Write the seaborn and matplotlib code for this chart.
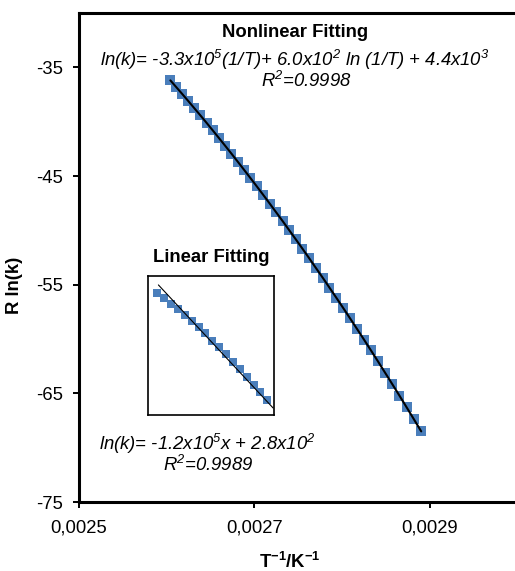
import numpy as np
import pandas as pd
import seaborn as sns
import matplotlib.pyplot as plt
from matplotlib.ticker import FuncFormatter

# Datos: R ln(k) frente a 1/T
inv_T = [0.0026042, 0.0026110, 0.0026178, 0.0026247, 0.0026316, 0.0026385, 0.0026455,
         0.0026525, 0.0026596, 0.0026667, 0.0026738, 0.0026810, 0.0026882, 0.0026954,
         0.0027027, 0.0027100, 0.0027174, 0.0027248, 0.0027322, 0.0027397, 0.0027473,
         0.0027548, 0.0027624, 0.0027701, 0.0027778, 0.0027855, 0.0027933, 0.0028011,
         0.0028090, 0.0028169, 0.0028249, 0.0028329, 0.0028409, 0.0028490, 0.0028571,
         0.0028653, 0.0028736, 0.0028818, 0.0028902]
R_lnk = [-36.20, -36.83, -37.46, -38.11, -38.77, -39.43, -40.11, -40.80, -41.51, -42.22,
         -42.94, -43.68, -44.43, -45.18, -45.95, -46.73, -47.53, -48.34, -49.15, -49.99,
         -50.84, -51.69, -52.56, -53.46, -54.35, -55.26, -56.19, -57.13, -58.09, -59.06,
         -60.05, -61.05, -62.06, -63.10, -64.14, -65.20, -66.29, -67.38, -68.50]

# Datos del recuadro (ajuste lineal)
ins_x = [0.00260000, 0.00261875, 0.00263750, 0.00265625, 0.00267500, 0.00269375,
         0.00271250, 0.00273125, 0.00275000, 0.00276875, 0.00278750, 0.00280625,
         0.00282500, 0.00284375, 0.00286250, 0.00288125, 0.00290000]
ins_y = [-36.20, -37.80, -39.61, -41.12, -42.93, -44.74, -46.55, -48.36, -50.78,
         -52.59, -54.70, -57.03, -59.23, -61.65, -63.88, -66.08, -68.59]
lin_slope = -1.187e5
lin_intercept = 275.2
lin_x_ends = [0.002603, 0.002916]

x_ticks = [0.0025, 0.0027, 0.0029]
y_ticks = [-75, -65, -55, -45, -35]

azul = '#4A7EBB'
fs = 13.3

sns.set_style('ticks')
plt.rcParams['font.family'] = ['Liberation Sans', 'DejaVu Sans']
plt.rcParams['mathtext.default'] = 'regular'
plt.rcParams['text.color'] = 'black'
plt.rcParams['axes.labelcolor'] = 'black'

fig = plt.figure(figsize=(5.15, 5.71), dpi=100)
ax = fig.add_axes([0.1534, 0.1208, 0.8515, 0.8564])

df = pd.DataFrame({'x': inv_T, 'y': R_lnk})
sns.scatterplot(data=df, x='x', y='y', marker='s', s=58, color=azul,
                edgecolor=azul, linewidth=0, ax=ax, zorder=2)
sns.lineplot(data=df, x='x', y='y', color='black', linewidth=1.5, ax=ax, zorder=3)

ax.set_xlim(0.0025, 0.0030)
ax.set_ylim(-75, -30)
ax.set_xticks(x_ticks)
ax.set_yticks(y_ticks)
ax.xaxis.set_major_formatter(FuncFormatter(lambda v, p: f'{v:.4f}'.replace('.', ',')))
ax.yaxis.set_major_formatter(FuncFormatter(lambda v, p: f'{v:.0f}'))

for lado in ['left', 'bottom', 'top', 'right']:
    ax.spines[lado].set_color('black')
    ax.spines[lado].set_linewidth(2.2)

ax.tick_params(axis='x', direction='out', length=4.3, width=1.4, color='black',
               labelsize=fs, pad=8.6, labelcolor='black')
ax.tick_params(axis='y', direction='out', length=4.3, width=1.4, color='black',
               labelsize=fs, pad=7.0, labelcolor='black')

ax.set_xlabel(r'T$^{-1}$/K$^{-1}$', fontsize=fs, fontweight='bold')
ax.set_ylabel('R ln(k)', fontsize=fs, fontweight='bold')
ax.xaxis.set_label_coords(0.481, -0.101)
ax.yaxis.set_label_coords(-0.128, 0.444)

# Textos del ajuste no lineal
ax.text(0.4926, 0.961, 'Nonlinear Fitting', transform=ax.transAxes, ha='center',
        va='center', fontsize=fs, fontweight='bold')
ax.text(0.4926, 0.904, r'ln(k)= -3.3x10$^5$(1/T)+ 6.0x10$^2$ ln (1/T) + 4.4x10$^3$',
        transform=ax.transAxes, ha='center', va='center', fontsize=fs, style='italic')
ax.text(0.5177, 0.861, r'R$^2$=0.9998', transform=ax.transAxes, ha='center',
        va='center', fontsize=fs, style='italic')

# Textos del ajuste lineal
ax.text(0.3026, 0.501, 'Linear Fitting', transform=ax.transAxes, ha='center',
        va='center', fontsize=fs, fontweight='bold')
ax.text(0.293, 0.1186, r'ln(k)= -1.2x10$^5$x + 2.8x10$^2$', transform=ax.transAxes,
        ha='center', va='center', fontsize=fs, style='italic')
ax.text(0.294, 0.0757, r'R$^2$=0.9989', transform=ax.transAxes, ha='center',
        va='center', fontsize=fs, style='italic')

# Recuadro con el ajuste lineal
axi = fig.add_axes([0.2868, 0.2727, 0.2458, 0.2440])
sns.scatterplot(x=ins_x, y=ins_y, marker='s', s=26, color=azul, edgecolor=azul,
                linewidth=0, ax=axi, zorder=2)
lin_y = [lin_slope * v + lin_intercept for v in lin_x_ends]
sns.lineplot(x=lin_x_ends, y=lin_y, color='black', linewidth=0.8, ax=axi, zorder=3)
axi.set_xlim(0.0025738, 0.0029191)
axi.set_ylim(-73.12, -31.07)
axi.set_xticks([])
axi.set_yticks([])
axi.set_xlabel('')
axi.set_ylabel('')
for lado in ['left', 'bottom', 'top', 'right']:
    axi.spines[lado].set_color('black')
    axi.spines[lado].set_linewidth(1.2)

fig.savefig('out.png', dpi=100)
